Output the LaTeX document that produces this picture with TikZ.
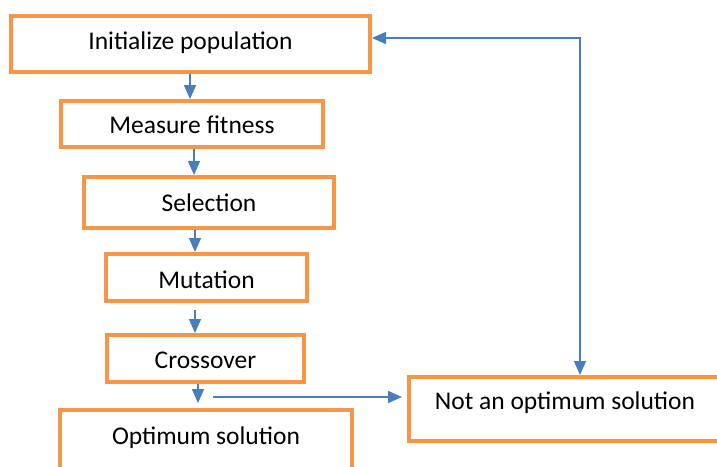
\documentclass[tikz,border=0pt]{standalone}
\usepackage{fontspec}
\setmainfont{Carlito}
\usetikzlibrary{arrows.meta}
\definecolor{boxorange}{HTML}{F79646}
\definecolor{arrowblue}{HTML}{4A7EBB}
\begin{document}
\begin{tikzpicture}[x=1pt,y=-1pt,
  box/.style={draw=boxorange, line width=4pt, rectangle, inner sep=0pt,
    font=\fontsize{25.5}{30}\selectfont, text height=25.5pt},
  arr/.style={draw=arrowblue, line width=1.6pt, -{Triangle[length=14pt,width=12pt]}},
  arrboth/.style={draw=arrowblue, line width=1.6pt, {Triangle[length=14pt,width=12pt]}-{Triangle[length=14pt,width=12pt]}}
]
\useasboundingbox (0,0) rectangle (717,466);
\clip (0,0) rectangle (717,466);
\fill[white] (0,0) rectangle (717,466);

\node[box, minimum width=359pt, minimum height=56pt, text depth=14.1pt] (init) at (190.5,44) {Initialize population};
\node[box, minimum width=262pt, minimum height=46pt, text depth=6.1pt] (fit) at (192,124) {Measure fitness};
\node[box, minimum width=250pt, minimum height=51pt, text depth=7.1pt] (sel) at (209,202.5) {Selection};
\node[box, minimum width=201pt, minimum height=47pt, text depth=4.1pt] (mut) at (206.5,277.5) {Mutation};
\node[box, minimum width=197pt, minimum height=47pt, text depth=6.1pt] (cross) at (205.5,358.5) {Crossover};
\node[box, minimum width=292pt, minimum height=80pt, text depth=37.1pt] (opt) at (206,450) {Optimum solution};
\node[box, minimum width=312pt, minimum height=64pt, text depth=24.1pt] (notopt) at (565,409) {Not an optimum solution};

\coordinate (xa) at (190,0);
\coordinate (xb) at (194,0);
\coordinate (xc) at (195,0);
\coordinate (xd) at (195,0);
\coordinate (xe) at (198,0);
\coordinate (hs) at (213,397);
\coordinate (xl) at (580,0);
\coordinate (yl) at (0,38);

\draw[arr] (init.south -| xa) -- (fit.north -| xa);
\draw[arr] (fit.south -| xb) -- (sel.north -| xb);
\draw[arr] (sel.south -| xc) -- (mut.north -| xc);
\draw[arr, shorten <=7pt] (mut.south -| xd) -- (cross.north -| xd);
\draw[arr, shorten >=5pt] (cross.south -| xe) -- (opt.north -| xe);
\draw[arr, shorten >=5pt] (hs) -- (hs -| notopt.west);
\draw[arrboth] (init.east |- yl) -| (notopt.north -| xl);
\end{tikzpicture}
\end{document}
